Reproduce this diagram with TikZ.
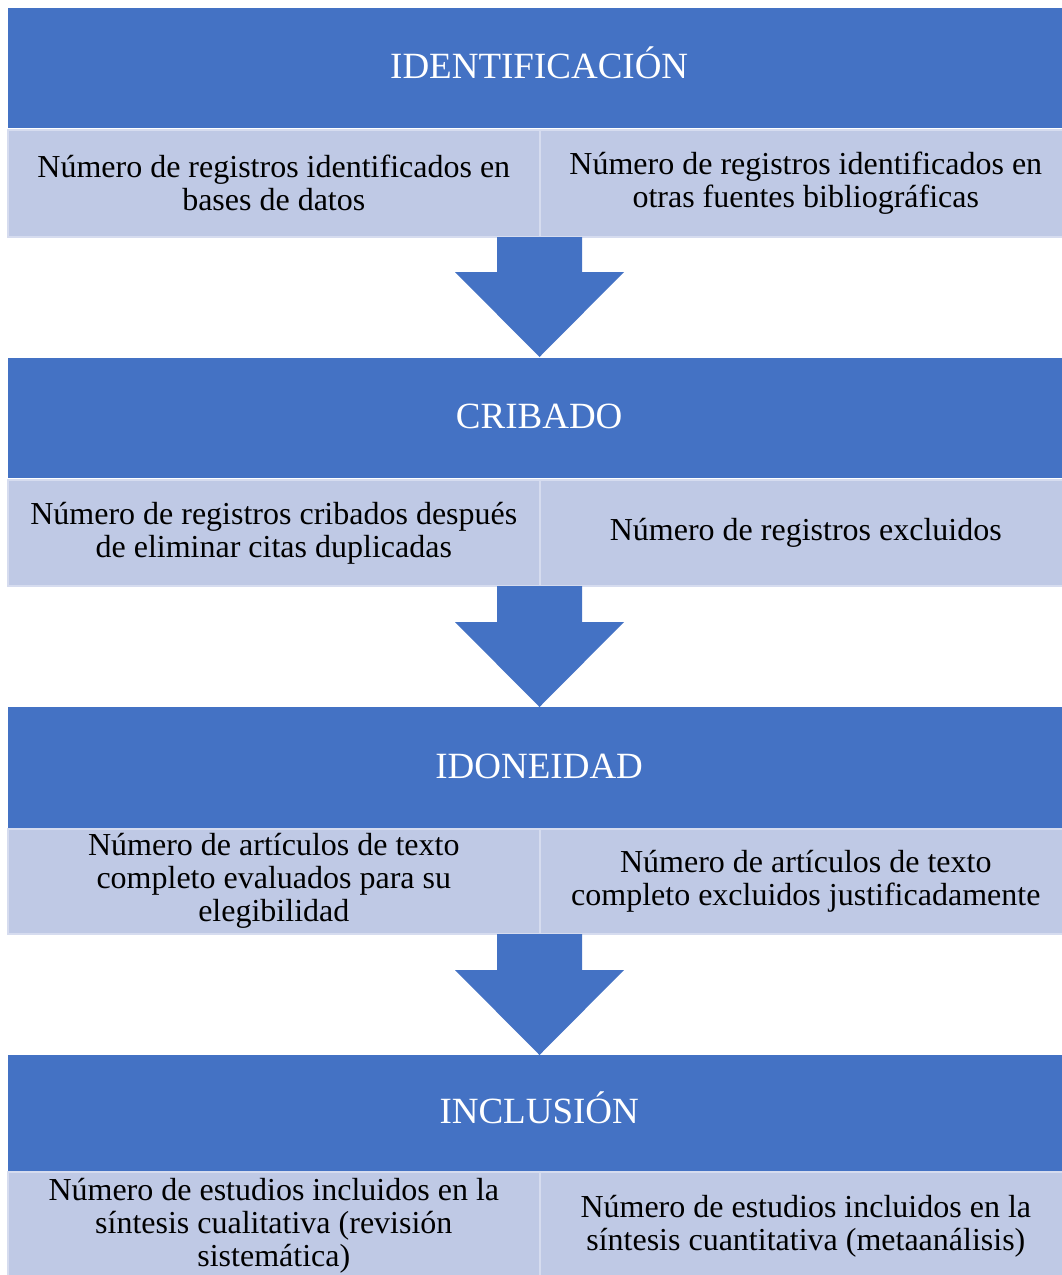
\documentclass[tikz,border=0pt]{standalone}
\usepackage{fontspec}
\setmainfont{Liberation Serif}
\definecolor{hdrblue}{HTML}{4472C4}
\definecolor{subfill}{HTML}{BFC9E5}
\definecolor{subline}{HTML}{D6DCEF}
\tikzset{
  hdrbox/.style={fill=hdrblue, draw=none, rectangle, anchor=north west, inner sep=0pt,
    minimum width=1062pt, text=white, text height=21.5pt, text depth=0pt,
    font=\fontsize{37}{42}\selectfont},
  subbox/.style={fill=subfill, draw=subline, line width=1.6pt, rectangle, anchor=north west,
    inner sep=0pt, align=center, text=black, font=\fontsize{32}{33}\selectfont},
  downarrow/.style={fill=hdrblue, draw=none}
}
\begin{document}
\begin{tikzpicture}[x=1pt,y=-1pt]
\useasboundingbox (0,0) rectangle (1062,1275);

% Section 1
\node[hdrbox, minimum height=120pt] (h1) at (8,8) {IDENTIFICACIÓN};
\node[subbox, minimum width=532pt, minimum height=107pt] (l1) at (7,129)
  {Número de registros identificados en\\bases de datos};
\node[subbox, minimum width=532pt, minimum height=107pt] (r1) at (539,129)
  {Número de registros identificados en\\otras fuentes bibliográficas};
\fill[downarrow] (497,237) -- (582,237) -- (582,272) -- (624,272) -- (539.5,357)
  -- (455,272) -- (497,272) -- cycle;

% Section 2
\node[hdrbox, minimum height=120pt] (h2) at (8,358) {CRIBADO};
\node[subbox, minimum width=532pt, minimum height=106pt] (l2) at (7,479)
  {Número de registros cribados después\\de eliminar citas duplicadas};
\node[subbox, minimum width=532pt, minimum height=106pt] (r2) at (539,479)
  {Número de registros excluidos};
\fill[downarrow] (497,586) -- (582,586) -- (582,622) -- (624,622) -- (539.5,707)
  -- (455,622) -- (497,622) -- cycle;

% Section 3
\node[hdrbox, minimum height=121pt] (h3) at (8,707) {IDONEIDAD};
\node[subbox, minimum width=532pt, minimum height=105pt] (l3) at (7,828)
  {Número de artículos de texto\\completo evaluados para su\\elegibilidad};
\node[subbox, minimum width=532pt, minimum height=105pt] (r3) at (539,828)
  {Número de artículos de texto\\completo excluidos justificadamente};
\fill[downarrow] (497,934) -- (582,934) -- (582,970) -- (624,970) -- (539.5,1055)
  -- (455,970) -- (497,970) -- cycle;

% Section 4
\node[hdrbox, minimum height=116pt] (h4) at (8,1055) {INCLUSIÓN};
\node[subbox, minimum width=532pt, minimum height=108pt] (l4) at (7,1171)
  {Número de estudios incluidos en la\\síntesis cualitativa (revisión\\sistemática)};
\node[subbox, minimum width=532pt, minimum height=108pt] (r4) at (539,1171)
  {Número de estudios incluidos en la\\síntesis cuantitativa (metaanálisis)};
\end{tikzpicture}
\end{document}
